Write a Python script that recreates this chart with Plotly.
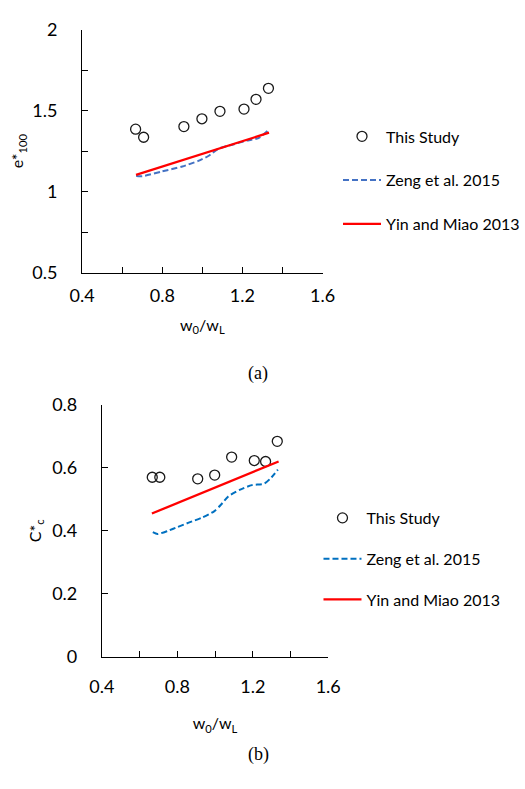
import plotly.graph_objects as go

# Normalised moisture ratio w0/wL shared by both panels
ratio_study = [0.667, 0.707, 0.908, 0.998, 1.088, 1.208, 1.268, 1.330]

# Panel (a): normalised void ratio e*100
e100_study = [1.386, 1.336, 1.402, 1.450, 1.496, 1.510, 1.570, 1.638]
ratio_zeng_a = [0.67, 0.70, 0.80, 0.90, 0.98, 1.03, 1.08, 1.15, 1.22, 1.28, 1.33]
e100_zeng = [1.096, 1.095, 1.125, 1.155, 1.190, 1.220, 1.265, 1.290, 1.315, 1.330, 1.380]
ratio_yin_a = [0.669, 1.333]
e100_yin = [1.104, 1.364]

# Panel (b): normalised compression index C*c
cc_study = [0.570, 0.570, 0.565, 0.577, 0.634, 0.623, 0.620, 0.684]
ratio_zeng_b = [0.67, 0.695, 0.75, 0.80, 0.86, 0.93, 0.995, 1.03, 1.07, 1.13, 1.195, 1.262, 1.30, 1.333]
cc_zeng = [0.396, 0.390, 0.400, 0.412, 0.426, 0.442, 0.462, 0.482, 0.509, 0.530, 0.545, 0.550, 0.570, 0.594]
ratio_yin_b = [0.665, 1.337]
cc_yin = [0.455, 0.620]

# Labelled ticks and unlabelled in-between ticks
x_tickvals = [0.4, 0.8, 1.2, 1.6]
x_ticktext = ["0.4", "0.8", "1.2", "1.6"]
x_minorvals = [0.6, 1.0, 1.4]
ya_tickvals = [0.5, 1.0, 1.5, 2.0]
ya_ticktext = ["0.5", "1", "1.5", "2"]
ya_minorvals = [0.75, 1.25, 1.75]
yb_tickvals = [0, 0.2, 0.4, 0.6, 0.8]
yb_ticktext = ["0", "0.2", "0.4", "0.6", "0.8"]

FONT = "Lato"
TICK_FS = 18
FS = 16
W, H = 525, 789

fig = go.Figure()

def add_panel(xa, ya, leg, ratio_zeng, zeng, ratio_yin, yin, study, zeng_color):
    fig.add_trace(go.Scatter(
        x=ratio_study, y=study, mode="markers", name="This Study",
        xaxis=xa, yaxis=ya, legend=leg, legendgroup=leg + "s",
        marker=dict(symbol="circle-open", size=10, color="#1a1a1a", line=dict(width=1.3)),
    ))
    fig.add_trace(go.Scatter(
        x=ratio_zeng, y=zeng, mode="lines", name="Zeng et al. 2015",
        xaxis=xa, yaxis=ya, legend=leg, legendgroup=leg + "z",
        line=dict(color=zeng_color, width=2, dash="6px,3px", shape="spline", smoothing=0.6),
    ))
    fig.add_trace(go.Scatter(
        x=ratio_yin, y=yin, mode="lines", name="Yin and Miao 2013",
        xaxis=xa, yaxis=ya, legend=leg, legendgroup=leg + "y",
        line=dict(color="#ff0000", width=2.3),
    ))

add_panel("x", "y", "legend", ratio_zeng_a, e100_zeng, ratio_yin_a, e100_yin, e100_study, "#4472c4")
add_panel("x2", "y2", "legend2", ratio_zeng_b, cc_zeng, ratio_yin_b, cc_yin, cc_study, "#0070c0")

axis_common = dict(
    showline=True, linecolor="#000000", linewidth=1, showgrid=False, zeroline=False,
    ticks="inside", ticklen=6, tickcolor="#000000", tickwidth=1,
    tickfont=dict(family=FONT, size=TICK_FS, color="#000000"),
)

def minor_ticks(vals):
    return dict(tickmode="array", tickvals=vals, ticks="inside", ticklen=6,
                tickcolor="#000000", tickwidth=1, showgrid=False)

xtitle = dict(text="w<sub>0</sub>/w<sub>L</sub>", font=dict(family=FONT, size=FS, color="#000000"))
title_font = dict(family=FONT, size=FS, color="#000000")

fig.update_layout(
    width=W, height=H,
    margin=dict(l=0, r=0, t=0, b=0),
    paper_bgcolor="white", plot_bgcolor="white",
    xaxis=dict(domain=[73.3 / W, 328.3 / W], range=[0.4, 1.6], anchor="y",
               tickmode="array", tickvals=x_tickvals, ticktext=x_ticktext,
               minor=minor_ticks(x_minorvals),
               ticklabelstandoff=7, title=dict(xtitle, standoff=14), **axis_common),
    yaxis=dict(domain=[1 - 268 / H, 1 - 18.3 / H], range=[0.5, 2.0], anchor="x",
               tickmode="array", tickvals=ya_tickvals, ticktext=ya_ticktext,
               minor=minor_ticks(ya_minorvals),
               ticklabelstandoff=20,
               title=dict(text="e*<sub>100</sub>", font=title_font, standoff=4),
               **axis_common),
    xaxis2=dict(domain=[94.3 / W, 334.3 / W], range=[0.4, 1.6], anchor="y2",
                tickmode="array", tickvals=x_tickvals, ticktext=x_ticktext,
                minor=minor_ticks(x_minorvals),
                ticklabelstandoff=13, title=dict(xtitle, standoff=22), **axis_common),
    yaxis2=dict(domain=[1 - 663.5 / H, 1 - 404 / H], range=[0, 0.8], anchor="x2",
                tickmode="array", tickvals=yb_tickvals, ticktext=yb_ticktext,
                ticklabelstandoff=20,
                title=dict(text="C*<sub>c</sub>", font=title_font, standoff=6),
                **axis_common),
    legend=dict(x=345 / W, y=1 - 110.5 / H, xanchor="left", yanchor="top",
                bgcolor="rgba(0,0,0,0)", tracegroupgap=20, itemwidth=38,
                font=dict(family=FONT, size=FS, color="#000000")),
    legend2=dict(x=324 / W, y=1 - 503 / H, xanchor="left", yanchor="top",
                 bgcolor="rgba(0,0,0,0)", tracegroupgap=17, itemwidth=38,
                 font=dict(family=FONT, size=FS, color="#000000")),
    annotations=[
        dict(text="(a)", x=260 / W, y=1 - 372 / H, xref="paper", yref="paper",
             showarrow=False, font=dict(family="Liberation Serif", size=18, color="#000000")),
        dict(text="(b)", x=260 / W, y=1 - 777 / H, xref="paper", yref="paper",
             showarrow=False, font=dict(family="Liberation Serif", size=18, color="#000000")),
    ],
)

fig.write_html("out.html")
